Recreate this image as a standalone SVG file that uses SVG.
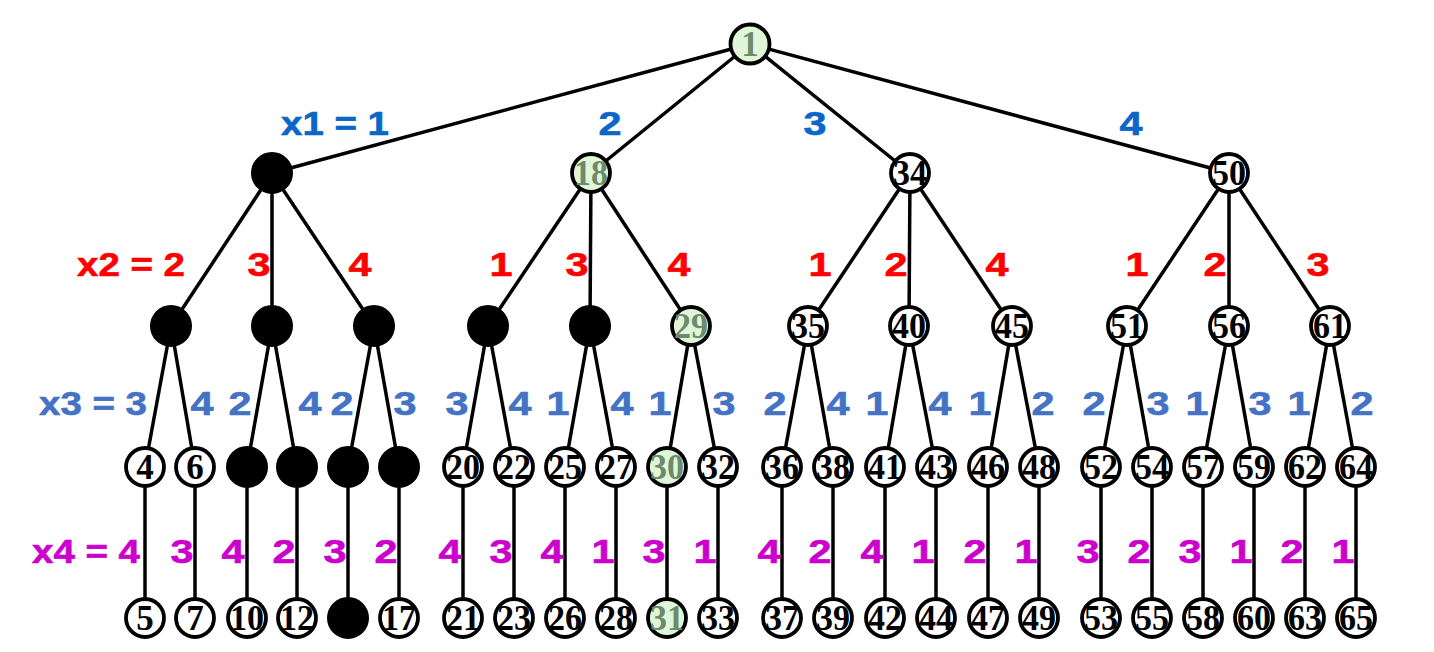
<svg xmlns="http://www.w3.org/2000/svg" width="1434" height="652" viewBox="0 0 1434 652">
<style>
.e{stroke:#000;stroke-width:3.5;fill:none}
.n{fill:#fff;stroke:#000;stroke-width:3.8}
.f{fill:#000;stroke:#000;stroke-width:3}
.g{fill:#e0f6d9;stroke:#000;stroke-width:3.8}
.t{font-family:"Liberation Serif","Times New Roman",serif;font-weight:bold;font-size:35px;text-anchor:middle;fill:#000}
.tg{font-family:"Liberation Serif","Times New Roman",serif;font-weight:bold;font-size:35px;text-anchor:middle;fill:#6c8a6c}
.lb{font-family:"Liberation Sans",Arial,sans-serif;font-weight:bold;font-size:34px;text-anchor:middle;stroke-width:0.6}
.c1{fill:#0a66c8;stroke:#0a66c8}.c2{fill:#ff0000;stroke:#ff0000}.c3{fill:#4472c4;stroke:#4472c4}.c4{fill:#cc00cc;stroke:#cc00cc}
</style>
<rect width="1434" height="652" fill="#fff"/>
<g id="connectors">
<line class="e" x1="750" y1="44" x2="272" y2="173"/>
<line class="e" x1="750" y1="44" x2="591" y2="173"/>
<line class="e" x1="750" y1="44" x2="910" y2="173"/>
<line class="e" x1="750" y1="44" x2="1229" y2="173"/>
<line class="e" x1="272" y1="173" x2="171" y2="326"/>
<line class="e" x1="272" y1="173" x2="272" y2="326"/>
<line class="e" x1="272" y1="173" x2="374" y2="326"/>
<line class="e" x1="591" y1="173" x2="488" y2="326"/>
<line class="e" x1="591" y1="173" x2="590" y2="326"/>
<line class="e" x1="591" y1="173" x2="691" y2="326"/>
<line class="e" x1="910" y1="173" x2="808" y2="326"/>
<line class="e" x1="910" y1="173" x2="909" y2="326"/>
<line class="e" x1="910" y1="173" x2="1012" y2="326"/>
<line class="e" x1="1229" y1="173" x2="1127" y2="326"/>
<line class="e" x1="1229" y1="173" x2="1229" y2="326"/>
<line class="e" x1="1229" y1="173" x2="1330" y2="326"/>
<line class="e" x1="171" y1="326" x2="145" y2="467"/>
<line class="e" x1="171" y1="326" x2="195" y2="467"/>
<line class="e" x1="272" y1="326" x2="247" y2="467"/>
<line class="e" x1="272" y1="326" x2="297" y2="467"/>
<line class="e" x1="374" y1="326" x2="348" y2="467"/>
<line class="e" x1="374" y1="326" x2="399" y2="467"/>
<line class="e" x1="488" y1="326" x2="463" y2="467"/>
<line class="e" x1="488" y1="326" x2="514" y2="467"/>
<line class="e" x1="590" y1="326" x2="565" y2="467"/>
<line class="e" x1="590" y1="326" x2="616" y2="467"/>
<line class="e" x1="691" y1="326" x2="667" y2="467"/>
<line class="e" x1="691" y1="326" x2="718" y2="467"/>
<line class="e" x1="808" y1="326" x2="782" y2="467"/>
<line class="e" x1="808" y1="326" x2="833" y2="467"/>
<line class="e" x1="909" y1="326" x2="885" y2="467"/>
<line class="e" x1="909" y1="326" x2="936" y2="467"/>
<line class="e" x1="1012" y1="326" x2="988" y2="467"/>
<line class="e" x1="1012" y1="326" x2="1039" y2="467"/>
<line class="e" x1="1127" y1="326" x2="1101" y2="467"/>
<line class="e" x1="1127" y1="326" x2="1152" y2="467"/>
<line class="e" x1="1229" y1="326" x2="1203" y2="467"/>
<line class="e" x1="1229" y1="326" x2="1254" y2="467"/>
<line class="e" x1="1330" y1="326" x2="1305" y2="467"/>
<line class="e" x1="1330" y1="326" x2="1356" y2="467"/>
<line class="e" x1="145" y1="467" x2="145" y2="618"/>
<line class="e" x1="195" y1="467" x2="195" y2="618"/>
<line class="e" x1="247" y1="467" x2="247" y2="618"/>
<line class="e" x1="297" y1="467" x2="297" y2="618"/>
<line class="e" x1="348" y1="467" x2="348" y2="618"/>
<line class="e" x1="399" y1="467" x2="399" y2="618"/>
<line class="e" x1="463" y1="467" x2="463" y2="618"/>
<line class="e" x1="514" y1="467" x2="514" y2="618"/>
<line class="e" x1="565" y1="467" x2="565" y2="618"/>
<line class="e" x1="616" y1="467" x2="616" y2="618"/>
<line class="e" x1="667" y1="467" x2="667" y2="618"/>
<line class="e" x1="718" y1="467" x2="718" y2="618"/>
<line class="e" x1="782" y1="467" x2="782" y2="618"/>
<line class="e" x1="833" y1="467" x2="833" y2="618"/>
<line class="e" x1="885" y1="467" x2="885" y2="618"/>
<line class="e" x1="936" y1="467" x2="936" y2="618"/>
<line class="e" x1="988" y1="467" x2="988" y2="618"/>
<line class="e" x1="1039" y1="467" x2="1039" y2="618"/>
<line class="e" x1="1101" y1="467" x2="1101" y2="618"/>
<line class="e" x1="1152" y1="467" x2="1152" y2="618"/>
<line class="e" x1="1203" y1="467" x2="1203" y2="618"/>
<line class="e" x1="1254" y1="467" x2="1254" y2="618"/>
<line class="e" x1="1305" y1="467" x2="1305" y2="618"/>
<line class="e" x1="1356" y1="467" x2="1356" y2="618"/>
</g>
<g id="labels">
<text class="lb c1" x="335" y="135" textLength="108" lengthAdjust="spacingAndGlyphs">x1 = 1</text>
<text class="lb c1" x="610" y="135" textLength="23" lengthAdjust="spacingAndGlyphs">2</text>
<text class="lb c1" x="815" y="135" textLength="23" lengthAdjust="spacingAndGlyphs">3</text>
<text class="lb c1" x="1131" y="135" textLength="23" lengthAdjust="spacingAndGlyphs">4</text>
<text class="lb c2" x="131" y="276" textLength="108" lengthAdjust="spacingAndGlyphs">x2 = 2</text>
<text class="lb c2" x="259" y="276" textLength="23" lengthAdjust="spacingAndGlyphs">3</text>
<text class="lb c2" x="360" y="276" textLength="23" lengthAdjust="spacingAndGlyphs">4</text>
<text class="lb c2" x="501" y="276" textLength="23" lengthAdjust="spacingAndGlyphs">1</text>
<text class="lb c2" x="577" y="276" textLength="23" lengthAdjust="spacingAndGlyphs">3</text>
<text class="lb c2" x="679" y="276" textLength="23" lengthAdjust="spacingAndGlyphs">4</text>
<text class="lb c2" x="820" y="276" textLength="23" lengthAdjust="spacingAndGlyphs">1</text>
<text class="lb c2" x="896" y="276" textLength="23" lengthAdjust="spacingAndGlyphs">2</text>
<text class="lb c2" x="997" y="276" textLength="23" lengthAdjust="spacingAndGlyphs">4</text>
<text class="lb c2" x="1137" y="276" textLength="23" lengthAdjust="spacingAndGlyphs">1</text>
<text class="lb c2" x="1215" y="276" textLength="23" lengthAdjust="spacingAndGlyphs">2</text>
<text class="lb c2" x="1318" y="276" textLength="23" lengthAdjust="spacingAndGlyphs">3</text>
<text class="lb c3" x="93" y="415" textLength="108" lengthAdjust="spacingAndGlyphs">x3 = 3</text>
<text class="lb c3" x="202" y="415" textLength="23" lengthAdjust="spacingAndGlyphs">4</text>
<text class="lb c3" x="240" y="415" textLength="23" lengthAdjust="spacingAndGlyphs">2</text>
<text class="lb c3" x="310" y="415" textLength="23" lengthAdjust="spacingAndGlyphs">4</text>
<text class="lb c3" x="342" y="415" textLength="23" lengthAdjust="spacingAndGlyphs">2</text>
<text class="lb c3" x="405" y="415" textLength="23" lengthAdjust="spacingAndGlyphs">3</text>
<text class="lb c3" x="457" y="415" textLength="23" lengthAdjust="spacingAndGlyphs">3</text>
<text class="lb c3" x="520" y="415" textLength="23" lengthAdjust="spacingAndGlyphs">4</text>
<text class="lb c3" x="558" y="415" textLength="23" lengthAdjust="spacingAndGlyphs">1</text>
<text class="lb c3" x="622" y="415" textLength="23" lengthAdjust="spacingAndGlyphs">4</text>
<text class="lb c3" x="660" y="415" textLength="23" lengthAdjust="spacingAndGlyphs">1</text>
<text class="lb c3" x="724" y="415" textLength="23" lengthAdjust="spacingAndGlyphs">3</text>
<text class="lb c3" x="775" y="415" textLength="23" lengthAdjust="spacingAndGlyphs">2</text>
<text class="lb c3" x="838" y="415" textLength="23" lengthAdjust="spacingAndGlyphs">4</text>
<text class="lb c3" x="877" y="415" textLength="23" lengthAdjust="spacingAndGlyphs">1</text>
<text class="lb c3" x="940" y="415" textLength="23" lengthAdjust="spacingAndGlyphs">4</text>
<text class="lb c3" x="980" y="415" textLength="23" lengthAdjust="spacingAndGlyphs">1</text>
<text class="lb c3" x="1043" y="415" textLength="23" lengthAdjust="spacingAndGlyphs">2</text>
<text class="lb c3" x="1094" y="415" textLength="23" lengthAdjust="spacingAndGlyphs">2</text>
<text class="lb c3" x="1158" y="415" textLength="23" lengthAdjust="spacingAndGlyphs">3</text>
<text class="lb c3" x="1197" y="415" textLength="23" lengthAdjust="spacingAndGlyphs">1</text>
<text class="lb c3" x="1260" y="415" textLength="23" lengthAdjust="spacingAndGlyphs">3</text>
<text class="lb c3" x="1299" y="415" textLength="23" lengthAdjust="spacingAndGlyphs">1</text>
<text class="lb c3" x="1362" y="415" textLength="23" lengthAdjust="spacingAndGlyphs">2</text>
<text class="lb c4" x="86" y="563" textLength="108" lengthAdjust="spacingAndGlyphs">x4 = 4</text>
<text class="lb c4" x="182" y="563" textLength="23" lengthAdjust="spacingAndGlyphs">3</text>
<text class="lb c4" x="233" y="563" textLength="23" lengthAdjust="spacingAndGlyphs">4</text>
<text class="lb c4" x="284" y="563" textLength="23" lengthAdjust="spacingAndGlyphs">2</text>
<text class="lb c4" x="335" y="563" textLength="23" lengthAdjust="spacingAndGlyphs">3</text>
<text class="lb c4" x="386" y="563" textLength="23" lengthAdjust="spacingAndGlyphs">2</text>
<text class="lb c4" x="450" y="563" textLength="23" lengthAdjust="spacingAndGlyphs">4</text>
<text class="lb c4" x="501" y="563" textLength="23" lengthAdjust="spacingAndGlyphs">3</text>
<text class="lb c4" x="552" y="563" textLength="23" lengthAdjust="spacingAndGlyphs">4</text>
<text class="lb c4" x="603" y="563" textLength="23" lengthAdjust="spacingAndGlyphs">1</text>
<text class="lb c4" x="654" y="563" textLength="23" lengthAdjust="spacingAndGlyphs">3</text>
<text class="lb c4" x="705" y="563" textLength="23" lengthAdjust="spacingAndGlyphs">1</text>
<text class="lb c4" x="769" y="563" textLength="23" lengthAdjust="spacingAndGlyphs">4</text>
<text class="lb c4" x="820" y="563" textLength="23" lengthAdjust="spacingAndGlyphs">2</text>
<text class="lb c4" x="872" y="563" textLength="23" lengthAdjust="spacingAndGlyphs">4</text>
<text class="lb c4" x="923" y="563" textLength="23" lengthAdjust="spacingAndGlyphs">1</text>
<text class="lb c4" x="975" y="563" textLength="23" lengthAdjust="spacingAndGlyphs">2</text>
<text class="lb c4" x="1026" y="563" textLength="23" lengthAdjust="spacingAndGlyphs">1</text>
<text class="lb c4" x="1088" y="563" textLength="23" lengthAdjust="spacingAndGlyphs">3</text>
<text class="lb c4" x="1139" y="563" textLength="23" lengthAdjust="spacingAndGlyphs">2</text>
<text class="lb c4" x="1190" y="563" textLength="23" lengthAdjust="spacingAndGlyphs">3</text>
<text class="lb c4" x="1241" y="563" textLength="23" lengthAdjust="spacingAndGlyphs">1</text>
<text class="lb c4" x="1292" y="563" textLength="23" lengthAdjust="spacingAndGlyphs">2</text>
<text class="lb c4" x="1343" y="563" textLength="23" lengthAdjust="spacingAndGlyphs">1</text>
</g>
<g id="n1"><circle class="g" cx="750" cy="44" r="19.5"/><text class="tg" x="750" y="56">1</text></g>
<g id="n2"><circle class="f" cx="272" cy="173" r="19.5"/></g>
<g id="n18"><circle class="g" cx="591" cy="173" r="19"/><text class="tg" x="591" y="185" textLength="34" lengthAdjust="spacingAndGlyphs">18</text></g>
<g id="n34"><circle class="n" cx="910" cy="173" r="19"/><text class="t" x="910" y="185" textLength="34" lengthAdjust="spacingAndGlyphs">34</text></g>
<g id="n50"><circle class="n" cx="1229" cy="173" r="19"/><text class="t" x="1229" y="185" textLength="34" lengthAdjust="spacingAndGlyphs">50</text></g>
<g id="n3"><circle class="f" cx="171" cy="326" r="19.5"/></g>
<g id="n8"><circle class="f" cx="272" cy="326" r="19.5"/></g>
<g id="n13"><circle class="f" cx="374" cy="326" r="19.5"/></g>
<g id="n19"><circle class="f" cx="488" cy="326" r="19.5"/></g>
<g id="n24"><circle class="f" cx="590" cy="326" r="19.5"/></g>
<g id="n29"><circle class="g" cx="691" cy="326" r="19"/><text class="tg" x="691" y="338" textLength="34" lengthAdjust="spacingAndGlyphs">29</text></g>
<g id="n35"><circle class="n" cx="808" cy="326" r="19"/><text class="t" x="808" y="338" textLength="34" lengthAdjust="spacingAndGlyphs">35</text></g>
<g id="n40"><circle class="n" cx="909" cy="326" r="19"/><text class="t" x="909" y="338" textLength="34" lengthAdjust="spacingAndGlyphs">40</text></g>
<g id="n45"><circle class="n" cx="1012" cy="326" r="19"/><text class="t" x="1012" y="338" textLength="34" lengthAdjust="spacingAndGlyphs">45</text></g>
<g id="n51"><circle class="n" cx="1127" cy="326" r="19"/><text class="t" x="1127" y="338" textLength="34" lengthAdjust="spacingAndGlyphs">51</text></g>
<g id="n56"><circle class="n" cx="1229" cy="326" r="19"/><text class="t" x="1229" y="338" textLength="34" lengthAdjust="spacingAndGlyphs">56</text></g>
<g id="n61"><circle class="n" cx="1330" cy="326" r="19"/><text class="t" x="1330" y="338" textLength="34" lengthAdjust="spacingAndGlyphs">61</text></g>
<g id="n4"><circle class="n" cx="145" cy="467" r="19"/><text class="t" x="145" y="479">4</text></g>
<g id="n6"><circle class="n" cx="195" cy="467" r="19"/><text class="t" x="195" y="479">6</text></g>
<g id="n9"><circle class="f" cx="247" cy="467" r="19.5"/></g>
<g id="n11"><circle class="f" cx="297" cy="467" r="19.5"/></g>
<g id="n14"><circle class="f" cx="348" cy="467" r="19.5"/></g>
<g id="n16"><circle class="f" cx="399" cy="467" r="19.5"/></g>
<g id="n20"><circle class="n" cx="463" cy="467" r="19"/><text class="t" x="463" y="479" textLength="34" lengthAdjust="spacingAndGlyphs">20</text></g>
<g id="n22"><circle class="n" cx="514" cy="467" r="19"/><text class="t" x="514" y="479" textLength="34" lengthAdjust="spacingAndGlyphs">22</text></g>
<g id="n25"><circle class="n" cx="565" cy="467" r="19"/><text class="t" x="565" y="479" textLength="34" lengthAdjust="spacingAndGlyphs">25</text></g>
<g id="n27"><circle class="n" cx="616" cy="467" r="19"/><text class="t" x="616" y="479" textLength="34" lengthAdjust="spacingAndGlyphs">27</text></g>
<g id="n30"><circle class="g" cx="667" cy="467" r="19"/><text class="tg" x="667" y="479" textLength="34" lengthAdjust="spacingAndGlyphs">30</text></g>
<g id="n32"><circle class="n" cx="718" cy="467" r="19"/><text class="t" x="718" y="479" textLength="34" lengthAdjust="spacingAndGlyphs">32</text></g>
<g id="n36"><circle class="n" cx="782" cy="467" r="19"/><text class="t" x="782" y="479" textLength="34" lengthAdjust="spacingAndGlyphs">36</text></g>
<g id="n38"><circle class="n" cx="833" cy="467" r="19"/><text class="t" x="833" y="479" textLength="34" lengthAdjust="spacingAndGlyphs">38</text></g>
<g id="n41"><circle class="n" cx="885" cy="467" r="19"/><text class="t" x="885" y="479" textLength="34" lengthAdjust="spacingAndGlyphs">41</text></g>
<g id="n43"><circle class="n" cx="936" cy="467" r="19"/><text class="t" x="936" y="479" textLength="34" lengthAdjust="spacingAndGlyphs">43</text></g>
<g id="n46"><circle class="n" cx="988" cy="467" r="19"/><text class="t" x="988" y="479" textLength="34" lengthAdjust="spacingAndGlyphs">46</text></g>
<g id="n48"><circle class="n" cx="1039" cy="467" r="19"/><text class="t" x="1039" y="479" textLength="34" lengthAdjust="spacingAndGlyphs">48</text></g>
<g id="n52"><circle class="n" cx="1101" cy="467" r="19"/><text class="t" x="1101" y="479" textLength="34" lengthAdjust="spacingAndGlyphs">52</text></g>
<g id="n54"><circle class="n" cx="1152" cy="467" r="19"/><text class="t" x="1152" y="479" textLength="34" lengthAdjust="spacingAndGlyphs">54</text></g>
<g id="n57"><circle class="n" cx="1203" cy="467" r="19"/><text class="t" x="1203" y="479" textLength="34" lengthAdjust="spacingAndGlyphs">57</text></g>
<g id="n59"><circle class="n" cx="1254" cy="467" r="19"/><text class="t" x="1254" y="479" textLength="34" lengthAdjust="spacingAndGlyphs">59</text></g>
<g id="n62"><circle class="n" cx="1305" cy="467" r="19"/><text class="t" x="1305" y="479" textLength="34" lengthAdjust="spacingAndGlyphs">62</text></g>
<g id="n64"><circle class="n" cx="1356" cy="467" r="19"/><text class="t" x="1356" y="479" textLength="34" lengthAdjust="spacingAndGlyphs">64</text></g>
<g id="n5"><circle class="n" cx="145" cy="618" r="19"/><text class="t" x="145" y="630">5</text></g>
<g id="n7"><circle class="n" cx="195" cy="618" r="19"/><text class="t" x="195" y="630">7</text></g>
<g id="n10"><circle class="n" cx="247" cy="618" r="19"/><text class="t" x="247" y="630" textLength="34" lengthAdjust="spacingAndGlyphs">10</text></g>
<g id="n12"><circle class="n" cx="297" cy="618" r="19"/><text class="t" x="297" y="630" textLength="34" lengthAdjust="spacingAndGlyphs">12</text></g>
<g id="n15"><circle class="f" cx="348" cy="618" r="19.5"/></g>
<g id="n17"><circle class="n" cx="399" cy="618" r="19"/><text class="t" x="399" y="630" textLength="34" lengthAdjust="spacingAndGlyphs">17</text></g>
<g id="n21"><circle class="n" cx="463" cy="618" r="19"/><text class="t" x="463" y="630" textLength="34" lengthAdjust="spacingAndGlyphs">21</text></g>
<g id="n23"><circle class="n" cx="514" cy="618" r="19"/><text class="t" x="514" y="630" textLength="34" lengthAdjust="spacingAndGlyphs">23</text></g>
<g id="n26"><circle class="n" cx="565" cy="618" r="19"/><text class="t" x="565" y="630" textLength="34" lengthAdjust="spacingAndGlyphs">26</text></g>
<g id="n28"><circle class="n" cx="616" cy="618" r="19"/><text class="t" x="616" y="630" textLength="34" lengthAdjust="spacingAndGlyphs">28</text></g>
<g id="n31"><circle class="g" cx="667" cy="618" r="19"/><text class="tg" x="667" y="630" textLength="34" lengthAdjust="spacingAndGlyphs">31</text></g>
<g id="n33"><circle class="n" cx="718" cy="618" r="19"/><text class="t" x="718" y="630" textLength="34" lengthAdjust="spacingAndGlyphs">33</text></g>
<g id="n37"><circle class="n" cx="782" cy="618" r="19"/><text class="t" x="782" y="630" textLength="34" lengthAdjust="spacingAndGlyphs">37</text></g>
<g id="n39"><circle class="n" cx="833" cy="618" r="19"/><text class="t" x="833" y="630" textLength="34" lengthAdjust="spacingAndGlyphs">39</text></g>
<g id="n42"><circle class="n" cx="885" cy="618" r="19"/><text class="t" x="885" y="630" textLength="34" lengthAdjust="spacingAndGlyphs">42</text></g>
<g id="n44"><circle class="n" cx="936" cy="618" r="19"/><text class="t" x="936" y="630" textLength="34" lengthAdjust="spacingAndGlyphs">44</text></g>
<g id="n47"><circle class="n" cx="988" cy="618" r="19"/><text class="t" x="988" y="630" textLength="34" lengthAdjust="spacingAndGlyphs">47</text></g>
<g id="n49"><circle class="n" cx="1039" cy="618" r="19"/><text class="t" x="1039" y="630" textLength="34" lengthAdjust="spacingAndGlyphs">49</text></g>
<g id="n53"><circle class="n" cx="1101" cy="618" r="19"/><text class="t" x="1101" y="630" textLength="34" lengthAdjust="spacingAndGlyphs">53</text></g>
<g id="n55"><circle class="n" cx="1152" cy="618" r="19"/><text class="t" x="1152" y="630" textLength="34" lengthAdjust="spacingAndGlyphs">55</text></g>
<g id="n58"><circle class="n" cx="1203" cy="618" r="19"/><text class="t" x="1203" y="630" textLength="34" lengthAdjust="spacingAndGlyphs">58</text></g>
<g id="n60"><circle class="n" cx="1254" cy="618" r="19"/><text class="t" x="1254" y="630" textLength="34" lengthAdjust="spacingAndGlyphs">60</text></g>
<g id="n63"><circle class="n" cx="1305" cy="618" r="19"/><text class="t" x="1305" y="630" textLength="34" lengthAdjust="spacingAndGlyphs">63</text></g>
<g id="n65"><circle class="n" cx="1356" cy="618" r="19"/><text class="t" x="1356" y="630" textLength="34" lengthAdjust="spacingAndGlyphs">65</text></g>
</svg>
